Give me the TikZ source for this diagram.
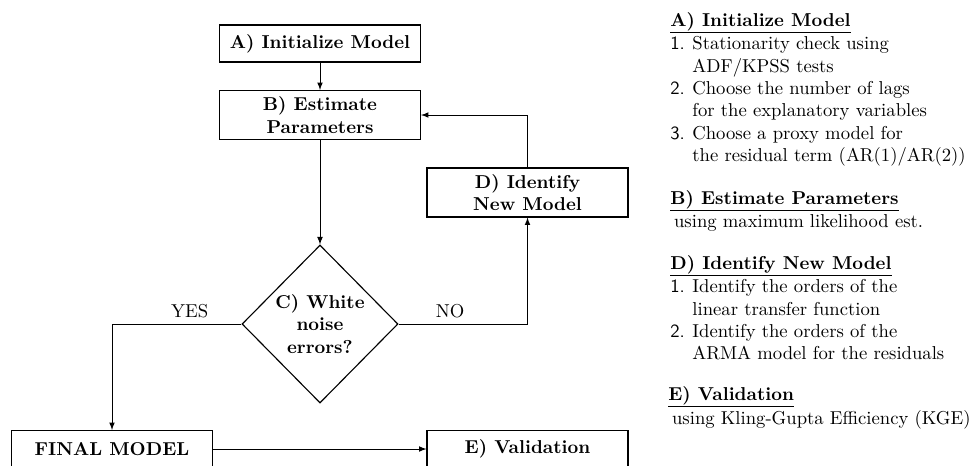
\documentclass[tikz,border=0pt]{standalone}
\usepackage{tikz}
\usetikzlibrary{shapes.geometric, arrows, positioning}

\newcommand{\stepno}[1]{\makebox[11.8pt][l]{\textsf{#1.}}}
\newcommand{\hang}{\hspace*{11.8pt}}

\begin{document}
\begin{tikzpicture}[
            x=0.536pt, y=-0.536pt, % one unit = one pixel of the layout
            block/.style={rectangle, draw, semithick, minimum width=107.7pt, minimum height=19.8pt, align=center, font=\bfseries}, % process boxes
            decision/.style={diamond, draw, semithick, minimum width=83.6pt, minimum height=84.7pt, inner sep=0pt, align=center, font=\bfseries}, % test
            link/.style={->, >=latex, thin}, % connectors
            head/.style={anchor=base west, inner sep=0pt, font=\bfseries}, % note titles
            notes/.style={inner sep=0pt, align=left} % note bodies
            ]
        \useasboundingbox (0,0) rectangle (972,465);

                % Flowchart
                \node[block] (init) at (320,43.5) {A) Initialize Model};
                \node[block] (estim) at (320,115) {B) Estimate\\Parameters};
                \node[decision] (white) at (320,324) {C) White\\noise\\errors?};
                \node[block] (ident) at (527.5,192.5) {D) Identify\\New Model};
                \node[block] (final) at (112,449) {FINAL MODEL};
                \node[block] (valid) at (527.5,449) {E) Validation};

                \draw[link] (init) -- (estim);
                \draw[link] (estim) -- (white);
                \draw[link] (white.east) -| node[pos=0.2, above] {NO} (ident.south);
                \draw[link] (ident.north) |- (estim.east);
                \draw[link] (white.west) -| node[pos=0.2, above] {YES} (final.north);
                \draw[link] (final) -- (valid);

                % Notes on the right
                \node[head] (hinit) at (670,26) {A) Initialize Model};
                \draw[semithick] ([yshift=-0.8pt]hinit.south west) -- ([yshift=-0.8pt]hinit.south east);
                \node[notes, below right=2.8pt and 0pt of hinit.south west] (ninit) {\stepno{1}Stationarity check using\\\hang ADF/KPSS tests\\\stepno{2}Choose the number of lags\\\hang for the explanatory variables\\\stepno{3}Choose a proxy model for\\\hang the residual term (AR(1)/AR(2))};

                \node[head] (hestim) at (670,204) {B) Estimate Parameters};
                \draw[semithick] ([yshift=-0.8pt]hestim.south west) -- ([yshift=-0.8pt]hestim.south east);
                \node[notes, below right=2.8pt and 2pt of hestim.south west] (nestim) {using maximum likelihood est.};

                \node[head] (hident) at (670,269) {D) Identify New Model};
                \draw[semithick] ([yshift=-0.8pt]hident.south west) -- ([yshift=-0.8pt]hident.south east);
                \node[notes, below right=2.8pt and 0pt of hident.south west] (nident) {\stepno{1}Identify the orders of the\\\hang linear transfer function\\\stepno{2}Identify the orders of the\\\hang ARMA model for the residuals};

                \node[head] (hvalid) at (668,400) {E) Validation};
                \draw[semithick] ([yshift=-0.8pt]hvalid.south west) -- ([yshift=-0.8pt]hvalid.south east);
                \node[notes, below right=2.8pt and 2pt of hvalid.south west] (nvalid) {using Kling-Gupta Efficiency (KGE)};

            \end{tikzpicture}
\end{document}
